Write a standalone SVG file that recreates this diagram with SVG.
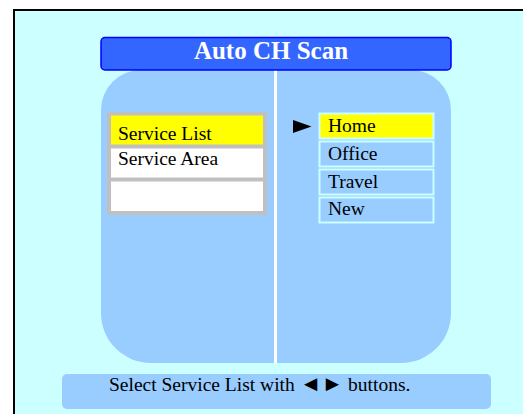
<svg xmlns="http://www.w3.org/2000/svg" width="523" height="414" viewBox="0 0 523 414">
<style>
text{font-family:"Liberation Serif","Times New Roman",serif;fill:#000;font-size:19.5px}
.title{fill:#fff;font-weight:bold;font-size:25px}
.lrow{stroke:none}
.rrow{stroke:#CCFFFF;stroke-width:2}
</style>
<rect x="0" y="0" width="523" height="414" fill="#fff"/>
<rect x="14" y="10" width="520" height="410" fill="#CCFFFF" stroke="#000" stroke-width="2"/>
<g id="panel">
<path d="M141,70 H411 A40,40 0 0 1 451,110 V313 A50,50 0 0 1 401,363 H151 A50,50 0 0 1 101,313 V110 A40,40 0 0 1 141,70 Z" fill="#99CCFF"/>
<rect x="274" y="70" width="3" height="293" fill="#fff"/>
</g>
<g id="title">
<rect x="101" y="37.5" width="350" height="32.5" rx="4" fill="#3366FF" stroke="#0000FF" stroke-width="1.5"/>
<text class="title" x="271" y="59" text-anchor="middle">Auto CH Scan</text>
</g>
<g id="left-list">
<rect x="107" y="112" width="160" height="103" fill="#C0C0C0"/>
<rect class="lrow" x="111" y="115.5" width="152" height="29" fill="#FFFF00"/>
<rect class="lrow" x="111" y="148.5" width="152" height="29" fill="#fff"/>
<rect class="lrow" x="111" y="181.5" width="152" height="29.5" fill="#fff"/>
<text x="118" y="139.5">Service List</text>
<text x="118" y="165">Service Area</text>
</g>
<g id="right-list">
<polygon points="293,120 293,133 311.5,126.5" fill="#000"/>
<rect class="rrow" x="319.5" y="113.5" width="114" height="25" fill="#FFFF00"/>
<rect class="rrow" x="319.5" y="141.5" width="114" height="25" fill="#99CCFF"/>
<rect class="rrow" x="319.5" y="169.5" width="114" height="25" fill="#99CCFF"/>
<rect class="rrow" x="319.5" y="197.5" width="114" height="25" fill="#99CCFF"/>
<text x="328" y="131.5">Home</text>
<text x="328" y="159.5">Office</text>
<text x="328" y="187.5">Travel</text>
<text x="328" y="215">New</text>
</g>
<g id="status">
<rect x="62" y="374" width="429" height="35" rx="5" fill="#99CCFF"/>
<text x="109" y="391">Select Service List with <tspan font-size="22px">◄►</tspan> buttons.</text>
</g>
</svg>
